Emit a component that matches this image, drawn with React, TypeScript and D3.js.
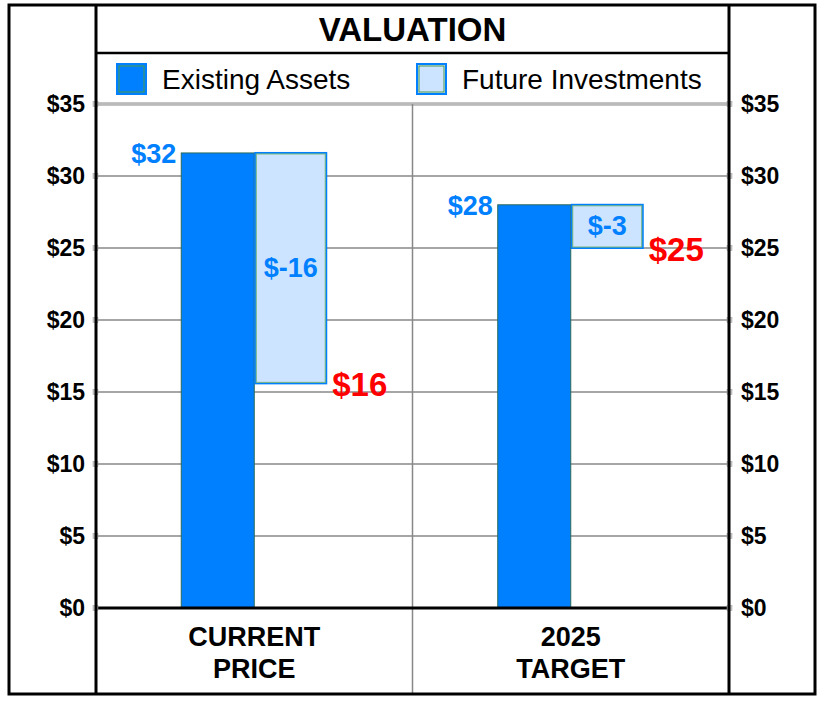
import * as React from 'react';
import * as d3 from 'd3';

const categories = ['CURRENT|PRICE', '2025|TARGET'];
const existingAssets = [31.6, 28.0];
const futureInvestments = [-16.0, -3.0];
const existingLabels = ['$32', '$28'];
const futureLabels = ['$-16', '$-3'];
const totalLabels = ['$16', '$25'];
const yTicks = [0, 5, 10, 15, 20, 25, 30, 35];
const legendNames = ['Existing Assets', 'Future Investments'];

const W = 824;
const H = 704;
const font = '"Liberation Sans", Arial, sans-serif';

export default function App() {
  const left = 96;
  const right = 729;
  const top = 104;
  const bottom = 608;

  const x = d3.scaleBand().domain(categories).range([left, right]);
  const y = d3.scaleLinear().domain([0, 35]).range([bottom, top]);
  const barW = 73;

  const blue = '#0080ff';
  const light = '#cce4ff';

  return (
    <svg width={W} height={H} style={{ position: 'absolute', left: 0, top: 0, background: '#fff' }} fontFamily={font}>
      <rect x={0} y={0} width={W} height={H} fill="#fff" />
      {/* grid */}
      {yTicks.filter(t => t > 0).map(t => (
        <line key={t} x1={left} x2={right} y1={y(t)} y2={y(t)} stroke="#888" strokeWidth={t === 35 ? 3 : 1.5} />
      ))}
      <line x1={left} x2={right} y1={y(35)} y2={y(35)} stroke="#eee" strokeWidth={1} />
      <line x1={(left + right) / 2} x2={(left + right) / 2} y1={top} y2={H - 10} stroke="#888" strokeWidth={1.5} />

      {/* bars */}
      {categories.map((c, i) => {
        const cx = (x(c) as number) + x.bandwidth() / 2;
        const e = existingAssets[i];
        const f = futureInvestments[i];
        const end = e + f;
        return (
          <g key={c}>
            <rect x={cx - barW} y={y(e)} width={barW} height={y(0) - y(e)} fill={blue} stroke="#2a6a5a" strokeWidth={1} />
            <rect x={cx + 1} y={y(e)} width={barW - 2} height={y(end) - y(e)} fill={light} stroke={blue} strokeWidth={2} />
            <rect x={cx + 2} y={y(e) + 1} width={barW - 4} height={y(end) - y(e) - 2} fill="none" stroke="#7ab87a" strokeWidth={1} />
            <text x={cx - barW - 5} y={y(e) + 10} textAnchor="end" fill={blue} fontWeight="bold" fontSize={27}>{existingLabels[i]}</text>
            <text x={cx + barW / 2} y={(y(e) + y(end)) / 2 + 9} textAnchor="middle" fill={blue} fontWeight="bold" fontSize={27}>{futureLabels[i]}</text>
            <text x={cx + barW + 5} y={y(end) + 13} textAnchor="start" fill="#ff0000" fontWeight="bold" fontSize={33}>{totalLabels[i]}</text>
            {c.split('|').map((ln, k) => (
              <text key={k} x={cx} y={646 + k * 32} textAnchor="middle" fontWeight="bold" fontSize={27}>{ln}</text>
            ))}
          </g>
        );
      })}

      {/* zero line */}
      <line x1={left} x2={right} y1={y(0)} y2={y(0)} stroke="#000" strokeWidth={3} />

      {/* y axis labels and ticks */}
      {yTicks.map(t => (
        <g key={t}>
          <text x={85} y={y(t) + 8} textAnchor="end" fontWeight="bold" fontSize={23}>{'$' + t}</text>
          <text x={741} y={y(t) + 8} textAnchor="start" fontWeight="bold" fontSize={23}>{'$' + t}</text>
          <rect x={left - 3} y={y(t) - 2.5} width={5} height={5} fill="#ccc" stroke="#999" strokeWidth={0.5} />
          <rect x={right - 2} y={y(t) - 2.5} width={5} height={5} fill="#ccc" stroke="#999" strokeWidth={0.5} />
        </g>
      ))}

      {/* frame */}
      <rect x={9} y={5} width={806} height={689} fill="none" stroke="#000" strokeWidth={3} />
      <line x1={left} x2={left} y1={5} y2={694} stroke="#000" strokeWidth={3} />
      <line x1={right} x2={right} y1={5} y2={694} stroke="#000" strokeWidth={3} />
      <line x1={left} x2={right} y1={53} y2={53} stroke="#000" strokeWidth={2.5} />

      {/* title */}
      <text x={(left + right) / 2} y={41} textAnchor="middle" fontWeight="bold" fontSize={33}>VALUATION</text>

      {/* legend */}
      {legendNames.map((n, i) => (
        <g key={n} transform={`translate(${i === 0 ? 117 : 417},64)`}>
          <rect x={0} y={0} width={29} height={30} fill={i === 0 ? blue : light} stroke={blue} strokeWidth={2} />
          <rect x={2} y={2} width={25} height={26} fill="none" stroke="#4a9a4a" strokeWidth={1} />
          <text x={45} y={25} fontSize={28}>{n}</text>
        </g>
      ))}
    </svg>
  );
}
